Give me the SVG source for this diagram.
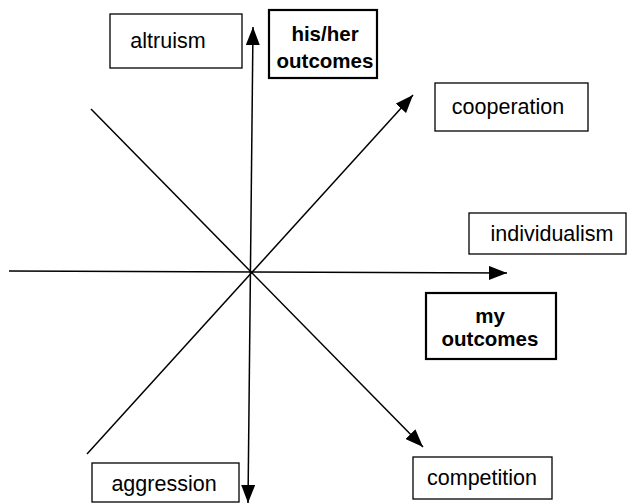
<svg xmlns="http://www.w3.org/2000/svg" width="628" height="504" viewBox="0 0 628 504">
<style>
.box{fill:#fff;stroke:#000;stroke-width:1.3}
.bbox{fill:#fff;stroke:#000;stroke-width:2.2}
.t{font-family:"Liberation Sans",Arial,sans-serif;font-size:21.5px;fill:#000;text-anchor:middle}
.b{font-family:"Liberation Sans",Arial,sans-serif;font-size:20.5px;font-weight:bold;fill:#000;text-anchor:middle}
.ax{stroke:#000;stroke-width:1.5;fill:none}
</style>
<defs>
<marker id="ah" viewBox="0 0 18 14" refX="18" refY="7" markerWidth="18" markerHeight="14" markerUnits="userSpaceOnUse" orient="auto-start-reverse">
<path d="M0,0 L18,7 L0,14 Z" fill="#000"/>
</marker>
</defs>
<g id="connectors">
<line class="ax" x1="248" y1="503" x2="253" y2="27" marker-start="url(#ah)" marker-end="url(#ah)"/>
<line class="ax" x1="9" y1="271" x2="507" y2="273" marker-end="url(#ah)"/>
<line class="ax" x1="87" y1="454" x2="413" y2="95" marker-end="url(#ah)"/>
<line class="ax" x1="91" y1="109" x2="423" y2="447" marker-end="url(#ah)"/>
</g>
<g id="altruism"><rect class="box" x="110" y="14" width="132" height="54"/><text class="t" x="168" y="48">altruism</text></g>
<g id="his-her-outcomes"><rect class="bbox" x="269" y="10" width="108" height="68"/><text class="b" x="325" y="41">his/her</text><text class="b" x="325" y="68">outcomes</text></g>
<g id="cooperation"><rect class="box" x="435" y="83" width="153" height="48"/><text class="t" x="508" y="114">cooperation</text></g>
<g id="individualism"><rect class="box" x="469" y="213" width="157" height="41"/><text class="t" x="552" y="241">individualism</text></g>
<g id="my-outcomes"><rect class="bbox" x="426" y="293" width="130" height="66"/><text class="b" x="490" y="323">my</text><text class="b" x="490" y="346">outcomes</text></g>
<g id="aggression"><rect class="box" x="92" y="463" width="147" height="39"/><text class="t" x="164" y="491">aggression</text></g>
<g id="competition"><rect class="box" x="413" y="457" width="139" height="42"/><text class="t" x="482" y="485">competition</text></g>
</svg>
